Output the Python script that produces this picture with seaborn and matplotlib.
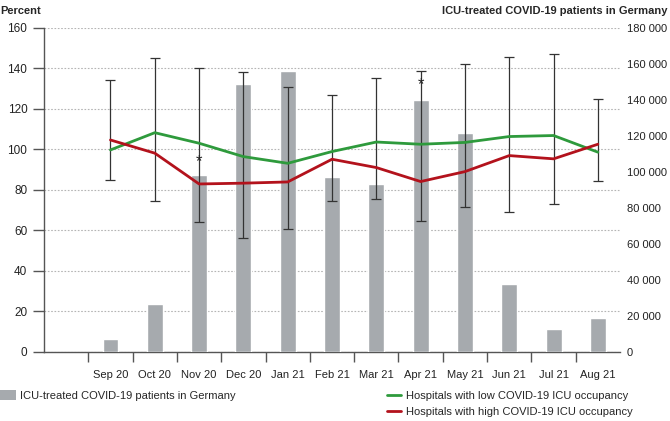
import numpy as np
import pandas as pd
import seaborn as sns
import matplotlib.pyplot as plt
from matplotlib.patches import Patch
from matplotlib.lines import Line2D
from matplotlib.ticker import FuncFormatter

sns.set_style('white')
plt.rcParams['font.family'] = ['Liberation Sans', 'DejaVu Sans']

# data
months = ['Sep 20', 'Oct 20', 'Nov 20', 'Dec 20', 'Jan 21', 'Feb 21',
          'Mar 21', 'Apr 21', 'May 21', 'Jun 21', 'Jul 21', 'Aug 21']
icu_patients = [7400, 26600, 98300, 148600, 155900, 97000,
                93500, 139900, 121400, 37700, 12500, 18850]
low_occupancy = [99.7, 108.2, 103.0, 96.4, 93.1, 98.9,
                 103.6, 102.5, 103.4, 106.3, 106.8, 98.6]
high_occupancy = [104.6, 98.1, 82.9, 83.3, 83.9, 95.1,
                  91.0, 84.1, 89.0, 96.9, 95.3, 102.5]
err_lower = [84.8, 74.7, 64.1, 56.3, 60.8, 74.7,
             75.4, 64.7, 71.3, 69.1, 72.9, 84.3]
err_upper = [134.0, 145.2, 140.3, 138.0, 130.6, 126.8,
             135.2, 138.5, 141.9, 145.7, 146.9, 125.0]
star_months = ['Nov 20', 'Apr 21']
star_values = [94, 132]

BAR_COLOR = '#a6aaae'
GREEN = '#2e9a3c'
RED = '#b3121c'
AXIS_COLOR = '#555555'

# one empty slot on each side of the months
pos = np.arange(1, len(months) + 1)
df = pd.DataFrame({'pos': pos, 'month': months, 'icu': icu_patients,
                   'low': low_occupancy, 'high': high_occupancy})

fig = plt.figure(figsize=(6.7, 4.21), dpi=100)
ax = fig.add_axes([0.0657, 0.1639, 0.8597, 0.7703])
ax_bar = ax.twinx()
ax_line = ax.twinx()

# right axis: ICU-treated patients as bars
sns.barplot(data=df, x='pos', y='icu', native_scale=True, color=BAR_COLOR,
            width=0.36, saturation=1, ax=ax_bar)
ax_bar.set_ylim(0, 180000)
ax_bar.set_yticks(range(0, 180001, 20000))
ax_bar.yaxis.set_major_formatter(FuncFormatter(lambda v, p: f'{int(v):,}'.replace(',', ' ')))
ax_bar.tick_params(axis='y', length=0, pad=5, labelsize=8, labelcolor='#222222')
ax_bar.set_xlabel('')
ax_bar.set_ylabel('')
for s in ax_bar.spines.values():
    s.set_visible(False)

# lines and error bars on top, sharing the percent scale
ax_line.set_ylim(0, 160)
ax_line.errorbar(pos, (np.array(err_lower) + np.array(err_upper)) / 2,
                 yerr=(np.array(err_upper) - np.array(err_lower)) / 2,
                 fmt='none', ecolor='#333333', elinewidth=0.9, capsize=3.6, capthick=0.9)
sns.lineplot(data=df, x='pos', y='low', color=GREEN, linewidth=2, ax=ax_line)
sns.lineplot(data=df, x='pos', y='high', color=RED, linewidth=2, ax=ax_line)
for m, v in zip(star_months, star_values):
    ax_line.text(months.index(m) + 1, v, '*', ha='center', va='center',
                 fontsize=12, color='#222222')
ax_line.set_xlabel('')
ax_line.set_ylabel('')
ax_line.set_yticks([])
for s in ax_line.spines.values():
    s.set_visible(False)

# left axis: grid and ticks (x ticks set last, the axes share them)
ax.set_ylim(0, 160)
ax.set_yticks(range(0, 161, 20))
ax.grid(axis='y', color='#b5b5b5', linestyle=(0, (1.5, 1.5)), linewidth=0.8)
ax.set_axisbelow(True)
ax.set_xlim(-0.5, len(months) + 0.5)
ax.set_xticks(pos)
ax.set_xticklabels(months)
ax.set_xticks(np.arange(0.5, len(months) + 0.5), minor=True)
ax.tick_params(axis='x', which='major', length=0, pad=13, labelsize=8, labelcolor='#222222')
ax.tick_params(axis='x', which='minor', length=7, width=1, color=AXIS_COLOR,
               direction='out', bottom=True)
ax.tick_params(axis='y', length=8, width=1, color=AXIS_COLOR, direction='out', pad=4,
               labelsize=8.5, labelcolor='#222222', left=True)
for side in ['top', 'right']:
    ax.spines[side].set_visible(False)
for side in ['left', 'bottom']:
    ax.spines[side].set_color(AXIS_COLOR)
    ax.spines[side].set_linewidth(1)

# axis titles
fig.text(0.0, 0.985, 'Percent', ha='left', va='top', fontsize=8, fontweight='bold')
fig.text(0.997, 0.985, 'ICU-treated COVID-19 patients in Germany', ha='right', va='top',
         fontsize=8, fontweight='bold')

# legends below the chart
fig.legend(handles=[Patch(facecolor=BAR_COLOR, edgecolor='none',
                          label='ICU-treated COVID-19 patients in Germany')],
           loc='center left', bbox_to_anchor=(-0.015, 0.06), frameon=False,
           fontsize=8, handlelength=1.4, handleheight=1.0, handletextpad=0.4)
fig.legend(handles=[Line2D([0], [0], color=GREEN, lw=2,
                           label='Hospitals with low COVID-19 ICU occupancy'),
                    Line2D([0], [0], color=RED, lw=2,
                           label='Hospitals with high COVID-19 ICU occupancy')],
           loc='center left', bbox_to_anchor=(0.563, 0.041), frameon=False,
           fontsize=8, handlelength=1.2, handletextpad=0.45, labelspacing=0.5)

fig.savefig('out.png', dpi=100)
